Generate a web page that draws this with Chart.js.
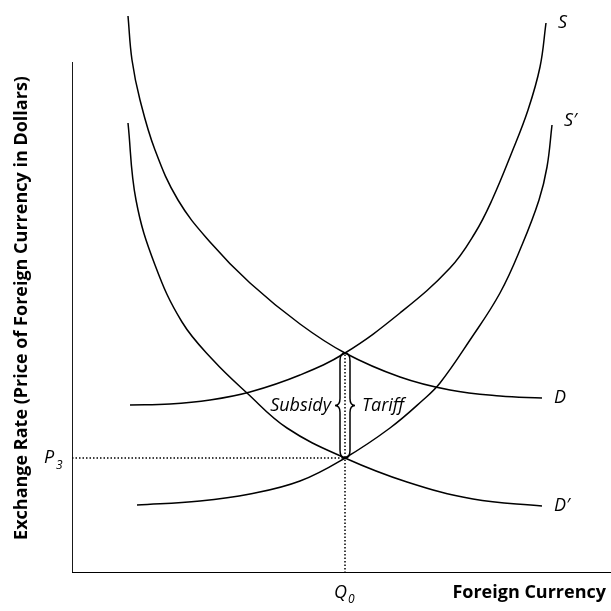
<!DOCTYPE html>
<html>
<head>
<meta charset="utf-8">
<script src="https://cdn.jsdelivr.net/npm/chart.js@4.4.1/dist/chart.umd.min.js"></script>
<style>
  body { margin: 0; background: #fff; }
  canvas { display: block; }
</style>
</head>
<body>
<canvas id="myChart" width="611" height="611"></canvas>
<script>
// curves: [quantity, exchange rate]
const curveD = [[56,557],[60,513],[68,473],[83,423],[106,373],[138,331],[178,290],[228,249],[273,220],[328,196],[378,183],[428,177],[470,175]];
const curveS = [[58,168],[98,169],[138,173],[178,181],[228,198],[273,220],[328,260],[378,305],[403,340],[420,373],[440,421],[456,463],[468,506],[474,550]];
const curveD2 = [[56,450],[64,373],[83,308],[110,251],[141,213],[175,180],[215,145],[273,115],[335,91],[401,74],[470,67]];
const curveS2 = [[65,68],[128,72],[178,79],[228,92],[273,115],[318,145],[351,173],[368,190],[398,233],[428,280],[450,328],[467,373],[475,406],[480,448]];

const curveNames = ['D', 'S', 'D\u2032', 'S\u2032'];
const q0 = 273;          // Q0
const p3 = 115;          // P3 (lower crossing)
const pTop = 220;        // upper crossing
const xMax = 539;
const yMax = 573;
const yAxisTop = 511;

const toPoints = (arr) => arr.map(p => ({ x: p[0], y: p[1] }));

const lineSet = (data, extra) => Object.assign({
    data: data,
    showLine: true,
    borderColor: '#000',
    borderWidth: 1.5,
    pointRadius: 0,
    fill: false,
    tension: 0.4
}, extra || {});

// text, braces and subscripts
const labelsPlugin = {
    id: 'labels',
    afterDatasetsDraw(chart) {
        const ctx = chart.ctx;
        const xs = chart.scales.x;
        const ys = chart.scales.y;
        const px = (v) => xs.getPixelForValue(v);
        const py = (v) => ys.getPixelForValue(v);
        ctx.save();
        ctx.fillStyle = '#000';
        ctx.strokeStyle = '#000';

        // curve names at line ends
        ctx.font = 'italic 18px "Open Sans"';
        ctx.textBaseline = 'middle';
        ctx.textAlign = 'left';
        [curveD, curveS, curveD2, curveS2].forEach((c, i) => {
            const last = c[c.length - 1];
            ctx.fillText(curveNames[i], px(last[0]) + 12, py(last[1]) + (i === 3 ? -4 : 0));
        });

        // subsidy / tariff
        const yMid = (py(pTop) + py(p3)) / 2;
        ctx.font = 'italic 18px "Open Sans"';
        ctx.textAlign = 'right';
        ctx.fillText('Subsidy', px(q0) - 14, yMid);
        ctx.textAlign = 'left';
        ctx.fillText('Tariff', px(q0) + 17, yMid);

        // braces
        const xq = px(q0);
        const yt = py(pTop);
        const yb = py(p3);
        ctx.lineWidth = 1.5;
        [-1, 1].forEach(s => {
            const xl = xq + s * 5;
            ctx.beginPath();
            ctx.moveTo(xq, yt);
            ctx.quadraticCurveTo(xl, yt, xl, yt + 8);
            ctx.lineTo(xl, yMid - 7);
            ctx.quadraticCurveTo(xl, yMid, xl + s * 5, yMid);
            ctx.quadraticCurveTo(xl, yMid, xl, yMid + 7);
            ctx.lineTo(xl, yb - 8);
            ctx.quadraticCurveTo(xl, yb, xq, yb);
            ctx.stroke();
        });

        // P3 and Q0
        ctx.font = 'italic 18px "Open Sans"';
        ctx.textAlign = 'left';
        ctx.textBaseline = 'alphabetic';
        ctx.fillText('P', 44, py(p3) + 5);
        ctx.fillText('Q', xq - 11, 598);
        ctx.font = 'italic 12px "Open Sans"';
        ctx.fillText('3', 56, py(p3) + 11);
        ctx.fillText('0', xq + 3, 603);

        // axis titles
        ctx.font = 'bold 18px "Open Sans"';
        ctx.textAlign = 'right';
        ctx.fillText('Foreign Currency', 606, 598);
        ctx.translate(27, 308);
        ctx.rotate(-Math.PI / 2);
        ctx.textAlign = 'center';
        ctx.fillText('Exchange Rate (Price of Foreign Currency in Dollars)', 0, 0);
        ctx.restore();
    }
};

const dotted = { borderWidth: 1.5, borderDash: [1.5, 2], tension: 0 };
const axisLine = { borderWidth: 1.8, tension: 0 };

const myChart = new Chart(document.getElementById('myChart'), {
    type: 'scatter',
    data: {
        datasets: [
            lineSet(toPoints([[0, yAxisTop], [0, 0], [xMax, 0]]), axisLine),
            lineSet(toPoints([[0, p3], [q0, p3]]), dotted),
            lineSet(toPoints([[q0, 0], [q0, pTop]]), dotted),
            lineSet(toPoints(curveD)),
            lineSet(toPoints(curveS)),
            lineSet(toPoints(curveD2)),
            lineSet(toPoints(curveS2))
        ]
    },
    options: {
        responsive: false,
        animation: false,
        layout: { padding: { left: 72, right: 0, top: 0, bottom: 38 } },
        plugins: { legend: { display: false }, tooltip: { enabled: false } },
        scales: {
            x: { type: 'linear', min: 0, max: xMax, display: false },
            y: { type: 'linear', min: 0, max: yMax, display: false }
        }
    },
    plugins: [labelsPlugin]
});
</script>
</body>
</html>
